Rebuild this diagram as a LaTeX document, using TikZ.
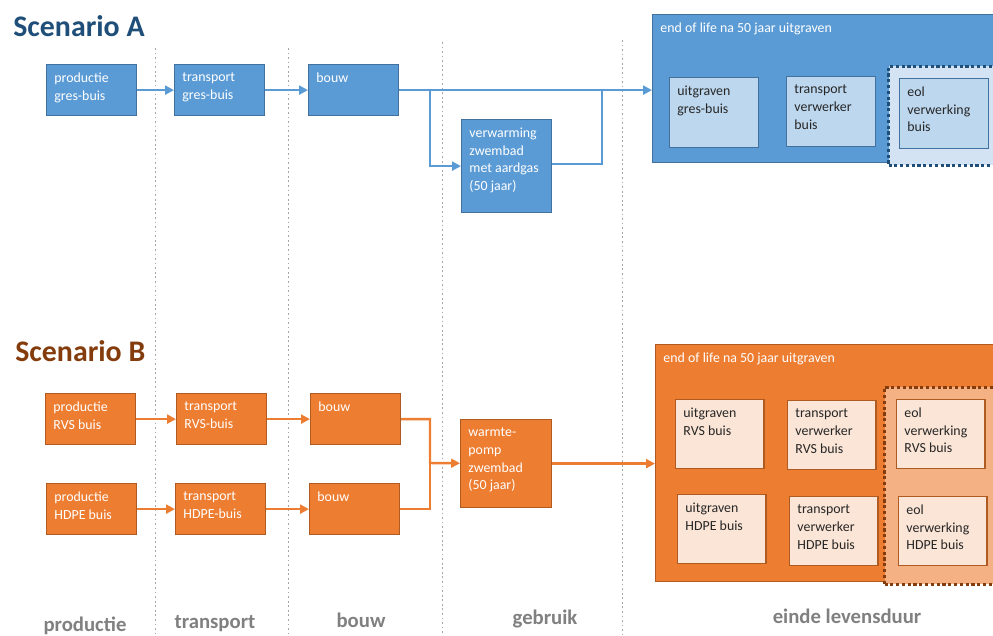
\documentclass[tikz,border=0pt]{standalone}
\usepackage{fontspec}
\setmainfont{Carlito}
\usetikzlibrary{arrows.meta}

\definecolor{bluF}{HTML}{5B9BD5}
\definecolor{bluD}{HTML}{41719C}
\definecolor{bluL}{HTML}{BDD7EE}
\definecolor{bluP}{HTML}{D3E3F4}
\definecolor{navy}{HTML}{1F4E79}
\definecolor{oraF}{HTML}{ED7D31}
\definecolor{oraD}{HTML}{AE5A21}
\definecolor{oraL}{HTML}{FBE5D6}
\definecolor{oraP}{HTML}{F4B183}
\definecolor{brwn}{HTML}{843C0C}

\begin{document}
\begin{tikzpicture}[x=0.02cm, y=-0.02cm,
blk/.style={anchor=north west, inner sep=0pt, line width=0.7pt, minimum width=1.8cm, minimum height=1.02cm},
blkA/.style={blk, draw=bluD, fill=bluF},
blkB/.style={blk, draw=oraD, fill=oraF},
subA/.style={blk, draw=bluD, fill=bluL, minimum width=1.78cm, minimum height=1.4cm},
subB/.style={blk, draw=oraD, fill=oraL, minimum width=1.77cm, minimum height=1.38cm},
tx/.style={anchor=north west, align=left, inner xsep=4.6pt, inner ysep=5pt, text=white, font=\fontsize{7.9}{10}\selectfont},
txd/.style={tx, text=black!85},
zone/.style={anchor=north west, inner sep=0pt, line width=1.7pt, dash pattern=on 1.8pt off 1.5pt},
cA/.style={draw=bluF, line width=1.4pt, -{Triangle[length=5pt,width=5pt]}},
lA/.style={draw=bluF, line width=1.4pt},
cB/.style={draw=oraF, line width=1.4pt, -{Triangle[length=5pt,width=5pt]}},
lB/.style={draw=oraF, line width=1.4pt},
ttl/.style={anchor=west, inner sep=0pt, font=\fontsize{17}{20}\selectfont\bfseries},
phase/.style={inner sep=0pt, text=black!50, font=\fontsize{11.8}{14}\selectfont\bfseries},
sep/.style={draw=black!35, line width=0.5pt, dash pattern=on 1pt off 1.6pt}]
\useasboundingbox (0,0) rectangle (993,635);
\clip (0,0) rectangle (993,635);

% fasegrenzen
\foreach \x/\t in {155/48, 288/48, 442/42, 622/40}
    \draw[sep] (\x,\t) -- (\x,635);

\foreach \x/\y/\s [count=\i] in {85/626/productie, 215/624/transport, 361/620/bouw, 545/619/gebruik, 847/616/einde levensduur}
    \node[phase] (fase\i) at (\x,\y) {\s};

% scenario A
\node[ttl, text=navy] (scA) at (13,26) {Scenario A};

\node[blkA, label={[tx]north west:productie\\gres-buis}] (pA) at (46,64) {};
\node[blkA, label={[tx]north west:transport\\gres-buis}] (tA) at (174,64) {};
\node[blkA, label={[tx]north west:bouw}] (bA) at (308,64) {};
\node[blkA, minimum height=1.86cm, label={[tx]north west:verwarming\\zwembad\\met aardgas\\(50 jaar)}] (gA) at (461,119) {};

\node[blkA, minimum width=8cm, minimum height=2.96cm, label={[tx]north west:end of life na 50 jaar uitgraven}] (eolA) at (652,14) {};
\node[zone, draw=navy, fill=bluP, minimum width=3cm, minimum height=1.98cm] (zA) at (887,65) {};
\node[subA, label={[txd]north west:uitgraven\\gres-buis}] (uA) at (669,77) {};
\node[subA, label={[txd]north west:transport\\verwerker\\buis}] (vA) at (786,76) {};
\node[subA, label={[txd]north west:eol\\verwerking\\buis}] (eA) at (899,78) {};

\coordinate (jA) at (430,89.5);
\coordinate (kA) at (602,89.5);
\draw[cA] (pA) -- (tA);
\draw[cA] (tA) -- (bA);
\draw[cA] (bA) -- (bA -| eolA.west);
\draw[cA] (jA) |- (gA);
\draw[lA] (gA.east) ++(0,-2) -| (kA);

% scenario B
\node[ttl, text=brwn] (scB) at (15,351) {Scenario B};

\node[blkB, label={[tx]north west:productie\\RVS buis}] (pR) at (45,393) {};
\node[blkB, label={[tx]north west:transport\\RVS-buis}] (tR) at (176,393) {};
\node[blkB, label={[tx]north west:bouw}] (bR) at (310,393) {};
\node[blkB, label={[tx]north west:productie\\HDPE buis}] (pH) at (46,483) {};
\node[blkB, label={[tx]north west:transport\\HDPE-buis}] (tH) at (175,483) {};
\node[blkB, label={[tx]north west:bouw}] (bH) at (309,483) {};
\node[blkB, minimum width=1.82cm, minimum height=1.76cm, label={[tx]north west:warmte-\\pomp\\zwembad\\(50 jaar)}] (gB) at (460,419) {};

\node[blkB, minimum width=8cm, minimum height=4.74cm, label={[tx]north west:end of life na 50 jaar uitgraven}] (eolB) at (655,344) {};
\node[zone, draw=brwn, fill=oraP, minimum width=3cm, minimum height=3.94cm] (zB) at (883,386) {};
\node[subB, label={[txd]north west:uitgraven\\RVS buis}] (uR) at (675,399) {};
\node[subB, label={[txd]north west:transport\\verwerker\\RVS buis}] (vR) at (787,400) {};
\node[subB, label={[txd]north west:eol\\verwerking\\RVS buis}] (eR) at (896,399) {};
\node[subB, label={[txd]north west:uitgraven\\HDPE buis}] (uH) at (677,494) {};
\node[subB, label={[txd]north west:transport\\verwerker\\HDPE buis}] (vH) at (789,496) {};
\node[subB, label={[txd]north west:eol\\verwerking\\HDPE buis}] (eH) at (898,496) {};

\coordinate (jB) at (430,463);
\draw[cB] (pR) -- (tR);
\draw[cB] (tR) -- (bR);
\draw[cB] (pH) -- (tH);
\draw[cB] (tH) -- (bH);
\draw[cB] (bR) -| (jB) -- (gB);
\draw[lB] (bH) -| (jB);
\draw[cB] (gB) -- (gB -| eolB.west);
\end{tikzpicture}
\end{document}
